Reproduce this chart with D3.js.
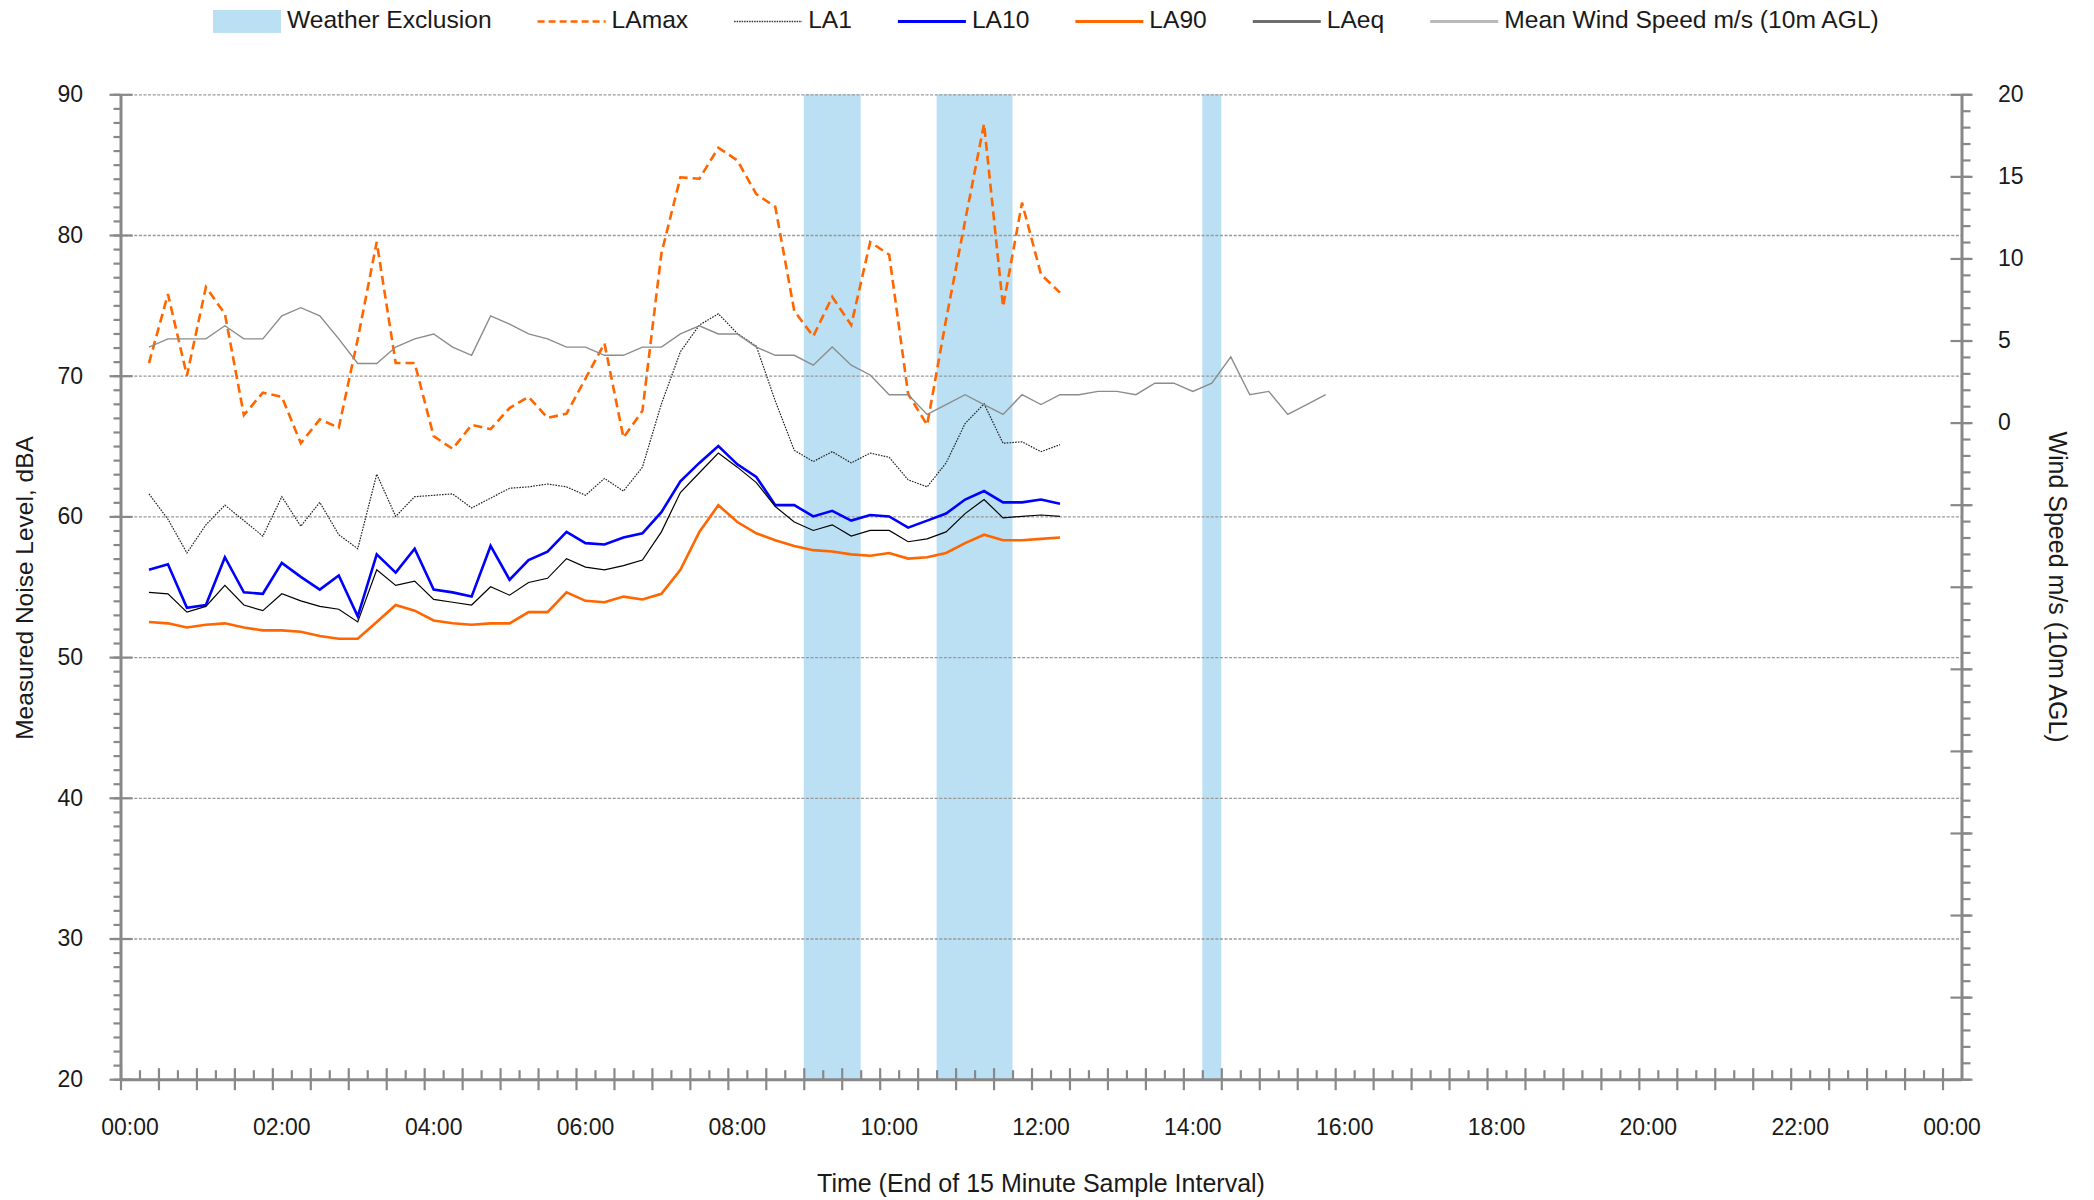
<!DOCTYPE html>
<html>
<head>
<meta charset="utf-8">
<script src="https://cdn.jsdelivr.net/npm/d3@7"></script>
<style>
  body { margin: 0; background: #fff; }
  svg { display: block; }
  text { font-family: "Liberation Sans", Arial, sans-serif; fill: #1a1a1a; }
</style>
</head>
<body>
<svg id="chart" width="2094" height="1200"></svg>
<script>
// 15-minute sample slots (interval end times), 00:00 through the following 00:00
const slots = d3.range(97).map(i => {
  const m = (i * 15) % 1440;
  return String(Math.floor(m / 60)).padStart(2, "0") + ":" + String(m % 60).padStart(2, "0");
});
const xTickSlots = d3.range(0, 97, 8);
const xTickLabels = ["00:00", "02:00", "04:00", "06:00", "08:00", "10:00", "12:00",
                     "14:00", "16:00", "18:00", "20:00", "22:00", "00:00"];
const noiseTickLabels = [20, 30, 40, 50, 60, 70, 80, 90];
const windTickLabels = [0, 5, 10, 15, 20];

// Noise readings, 00:15 to 12:15
const noiseFirstSlot = 1;
const LAmax = [70.9, 75.8, 70.0, 76.3, 74.4, 67.2, 68.8, 68.5, 65.2, 66.9, 66.3, 72.6,
               79.5, 70.9, 70.9, 65.7, 64.8, 66.5, 66.2, 67.7, 68.5, 67.0, 67.3, 69.8,
               72.3, 65.6, 67.5, 78.7, 84.1, 84.0, 86.2, 85.3, 82.9, 82.0, 74.6, 72.8,
               75.6, 73.6, 79.5, 78.6, 68.7, 66.5, 74.0, 81.0, 87.9, 74.9, 82.3, 77.2, 75.9];
const LA1 = [61.6, 59.8, 57.4, 59.4, 60.8, 59.7, 58.6, 61.4, 59.3, 61.0, 58.7, 57.7,
             63.0, 60.0, 61.4, 61.5, 61.6, 60.6, 61.3, 62.0, 62.1, 62.3, 62.1, 61.5,
             62.7, 61.8, 63.5, 68.0, 71.7, 73.6, 74.4, 73.0, 72.1, 68.2, 64.7, 63.9,
             64.6, 63.8, 64.5, 64.2, 62.6, 62.1, 63.8, 66.6, 68.0, 65.2, 65.3, 64.6, 65.1];
const LA10 = [56.2, 56.6, 53.5, 53.7, 57.1, 54.6, 54.5, 56.7, 55.7, 54.8, 55.8, 52.9,
              57.3, 56.0, 57.7, 54.8, 54.6, 54.3, 57.9, 55.5, 56.9, 57.5, 58.9, 58.1,
              58.0, 58.5, 58.8, 60.3, 62.5, 63.8, 65.0, 63.7, 62.8, 60.8, 60.8, 60.0,
              60.4, 59.7, 60.1, 60.0, 59.2, 59.7, 60.2, 61.2, 61.8, 61.0, 61.0, 61.2, 60.9];
const LA90 = [52.5, 52.4, 52.1, 52.3, 52.4, 52.1, 51.9, 51.9, 51.8, 51.5, 51.3, 51.3,
              52.5, 53.7, 53.3, 52.6, 52.4, 52.3, 52.4, 52.4, 53.2, 53.2, 54.6, 54.0,
              53.9, 54.3, 54.1, 54.5, 56.2, 58.9, 60.8, 59.6, 58.8, 58.3, 57.9, 57.6,
              57.5, 57.3, 57.2, 57.4, 57.0, 57.1, 57.4, 58.1, 58.7, 58.3, 58.3, 58.4, 58.5];
const LAeq = [54.6, 54.5, 53.2, 53.6, 55.1, 53.7, 53.3, 54.5, 54.0, 53.6, 53.4, 52.5,
              56.2, 55.1, 55.4, 54.1, 53.9, 53.7, 55.0, 54.4, 55.3, 55.6, 57.0, 56.4,
              56.2, 56.5, 56.9, 58.9, 61.7, 63.1, 64.5, 63.5, 62.4, 60.7, 59.6, 59.0,
              59.4, 58.6, 59.0, 59.0, 58.2, 58.4, 58.9, 60.2, 61.2, 59.9, 60.0, 60.1, 60.0];

// Mean wind speed (m/s, 10 m AGL), 00:15 to 15:45
const windFirstSlot = 1;
const windSpeed = [4.6, 5.1, 5.1, 5.1, 5.9, 5.1, 5.1, 6.5, 7.0, 6.5, 5.1, 3.6,
                   3.6, 4.6, 5.1, 5.4, 4.6, 4.1, 6.5, 6.0, 5.4, 5.1, 4.6, 4.6,
                   4.1, 4.1, 4.6, 4.6, 5.4, 5.9, 5.4, 5.4, 4.6, 4.1, 4.1, 3.5,
                   4.6, 3.5, 2.9, 1.7, 1.7, 0.5, 1.1, 1.7, 1.1, 0.5, 1.7, 1.1,
                   1.7, 1.7, 1.9, 1.9, 1.7, 2.4, 2.4, 1.9, 2.4, 4.0, 1.7, 1.9, 0.5, 1.1, 1.7];

// Intervals excluded because of weather
const exclusionSlots = ["09:00", "09:15", "09:30", "10:45", "11:00", "11:15", "11:30", "14:15"];

// ---- layout ----
const plotLeft = 120.5, plotRight = 1961.5, plotTop = 94.3, plotBottom = 1079.2;
const svg = d3.select("#chart");
const axisColor = "#888888";

const x = d3.scaleBand().domain(d3.range(97)).range([plotLeft, plotRight]).paddingInner(0).paddingOuter(0);
const xEdge = d3.scaleLinear().domain([0, 97]).range([plotLeft, plotRight]);
const cx = i => x(i) + x.bandwidth() / 2;
const yL = d3.scaleLinear().domain([20, 90]).range([plotBottom, plotTop]);
const yR = d3.scaleLinear().domain([-40, 20]).range([plotBottom, plotTop]);

// weather exclusion columns (consecutive slots merged into one block)
const exIdx = exclusionSlots.map(s => slots.indexOf(s)).sort((a, b) => a - b);
const runs = [];
exIdx.forEach(i => {
  const last = runs[runs.length - 1];
  if (last && last[1] === i - 1) last[1] = i; else runs.push([i, i]);
});
svg.append("g").selectAll("rect").data(runs).join("rect")
  .attr("x", d => x(d[0]))
  .attr("width", d => x(d[1]) + x.bandwidth() - x(d[0]))
  .attr("y", yL(90)).attr("height", yL(20) - yL(90))
  .attr("fill", "#bbe0f3");

// horizontal gridlines
const grid = svg.append("g").attr("transform", `translate(${plotLeft},0)`)
  .call(d3.axisRight(yL).tickValues(d3.range(30, 91, 10)).tickSize(plotRight - plotLeft).tickFormat(""));
grid.select(".domain").remove();
grid.selectAll("line").attr("stroke", "#999").attr("stroke-width", 1.3).attr("stroke-dasharray", "3,1.6");

// ---- series ----
const noisePts = arr => arr.map((v, j) => [cx(noiseFirstSlot + j), yL(v)]);
const line = d3.line();
const series = [
  { data: LAmax, color: "#ff6600", width: 2.6, dash: "9,5" },
  { data: LA1, color: "#222222", width: 1.2, dash: "1.6,1.2" },
  { data: LA90, color: "#ff6600", width: 2.6, dash: null },
  { data: LA10, color: "#0000ff", width: 2.6, dash: null },
  { data: LAeq, color: "#000000", width: 1.2, dash: null }
];
series.forEach(s => {
  svg.append("path").attr("d", line(noisePts(s.data)))
    .attr("fill", "none").attr("stroke", s.color).attr("stroke-width", s.width)
    .attr("stroke-linejoin", "miter").attr("stroke-dasharray", s.dash);
});
svg.append("path")
  .attr("d", line(windSpeed.map((w, j) => [cx(windFirstSlot + j), yR(w)])))
  .attr("fill", "none").attr("stroke", "#8c8c8c").attr("stroke-width", 1.4);

// ---- axes ----
function styleAxis(g, w) {
  g.select(".domain").attr("stroke", axisColor).attr("stroke-width", w || 2.6);
  g.selectAll(".tick line").attr("stroke", axisColor).attr("stroke-width", 2.2);
  g.selectAll("text").attr("font-size", 23).attr("fill", "#1a1a1a")
    .attr("font-family", '"Liberation Sans", Arial, sans-serif');
  return g;
}

// x axis: major ticks every 30 min crossing the line, minor ticks inside
const xAx = svg.append("g").attr("transform", `translate(0,${plotBottom})`);
xAx.append("g").call(d3.axisBottom(xEdge).tickValues(d3.range(0, 97, 2)).tickSizeInner(11).tickSizeOuter(0).tickFormat(""))
  .call(g => styleAxis(g, 3));
xAx.append("g").call(d3.axisTop(xEdge).tickValues(d3.range(0, 97, 2)).tickSizeInner(11).tickSizeOuter(0).tickFormat(""))
  .call(g => { g.select(".domain").remove(); styleAxis(g); });
xAx.append("g").call(d3.axisTop(xEdge).tickValues(d3.range(1, 97, 2)).tickSizeInner(9).tickSizeOuter(0).tickFormat(""))
  .call(g => { g.select(".domain").remove(); styleAxis(g); });
xAx.append("g").call(d3.axisBottom(x).tickValues(xTickSlots).tickSize(0).tickPadding(39)
    .tickFormat(i => xTickLabels[xTickSlots.indexOf(i)]))
  .call(g => { g.select(".domain").remove(); styleAxis(g); });

// left axis (noise level)
const yAx = svg.append("g").attr("transform", `translate(${plotLeft},0)`);
yAx.append("g").call(d3.axisLeft(yL).tickValues(d3.range(20, 91, 1)).tickSizeInner(7).tickSizeOuter(0).tickFormat(""))
  .call(g => styleAxis(g, 3));
yAx.append("g").call(d3.axisLeft(yL).tickValues(noiseTickLabels).tickSizeInner(11).tickSizeOuter(0).tickFormat(""))
  .call(g => { g.select(".domain").remove(); styleAxis(g); });
yAx.append("g").call(d3.axisRight(yL).tickValues(noiseTickLabels).tickSizeInner(12).tickSizeOuter(0).tickFormat(""))
  .call(g => { g.select(".domain").remove(); styleAxis(g); });
yAx.append("g").call(d3.axisLeft(yL).tickValues(noiseTickLabels).tickSize(0).tickPadding(37.5))
  .call(g => { g.select(".domain").remove(); styleAxis(g); });

// right axis (wind speed), labelled from 0 upwards
const rAx = svg.append("g").attr("transform", `translate(${plotRight},0)`);
rAx.append("g").call(d3.axisRight(yR).tickValues(d3.range(-40, 21, 1)).tickSizeInner(9).tickSizeOuter(0).tickFormat(""))
  .call(g => styleAxis(g, 3));
rAx.append("g").call(d3.axisRight(yR).tickValues(d3.range(-40, 21, 5)).tickSizeInner(11).tickSizeOuter(0).tickFormat(""))
  .call(g => { g.select(".domain").remove(); styleAxis(g); });
rAx.append("g").call(d3.axisLeft(yR).tickValues(d3.range(-40, 21, 5)).tickSizeInner(11).tickSizeOuter(0).tickFormat(""))
  .call(g => { g.select(".domain").remove(); styleAxis(g); });
rAx.append("g").call(d3.axisRight(yR).tickValues(windTickLabels).tickSize(0).tickPadding(36.5))
  .call(g => { g.select(".domain").remove(); styleAxis(g); g.selectAll("text").attr("text-anchor", "start"); });

// axis titles
svg.append("text").attr("transform", "translate(24,588) rotate(-90)")
  .attr("text-anchor", "middle").attr("dominant-baseline", "central").attr("font-size", 24.5)
  .text("Measured Noise Level, dBA");
svg.append("text").attr("transform", "translate(2058,587) rotate(90)")
  .attr("text-anchor", "middle").attr("dominant-baseline", "central").attr("font-size", 25)
  .text("Wind Speed m/s (10m AGL)");
svg.append("text").attr("x", 1041).attr("y", 1192)
  .attr("text-anchor", "middle").attr("font-size", 25)
  .text("Time (End of 15 Minute Sample Interval)");

// ---- legend ----
const legendItems = [
  { label: "Weather Exclusion", kind: "patch", color: "#bbe0f3" },
  { label: "LAmax", kind: "line", color: "#ff6600", width: 2.6, dash: "7,4" },
  { label: "LA1", kind: "line", color: "#333", width: 1.3, dash: "1.5,1" },
  { label: "LA10", kind: "line", color: "#0000ff", width: 3 },
  { label: "LA90", kind: "line", color: "#ff6600", width: 3 },
  { label: "LAeq", kind: "line", color: "#6e6e6e", width: 3 },
  { label: "Mean Wind Speed m/s (10m AGL)", kind: "line", color: "#b9b9b9", width: 3 }
];
const legend = svg.append("g");
let lx = 213;
const ly = 21.5;
legendItems.forEach(it => {
  const g = legend.append("g");
  if (it.kind === "patch") {
    g.append("rect").attr("x", lx).attr("y", 10).attr("width", 68).attr("height", 23).attr("fill", it.color);
  } else {
    g.append("line").attr("x1", lx).attr("x2", lx + 68).attr("y1", ly).attr("y2", ly)
      .attr("stroke", it.color).attr("stroke-width", it.width).attr("stroke-dasharray", it.dash || null);
  }
  const t = g.append("text").attr("x", lx + 74).attr("y", 27.5).attr("font-size", 24.6).text(it.label);
  lx = lx + 74 + t.node().getComputedTextLength() + 46;
});
</script>
</body>
</html>
